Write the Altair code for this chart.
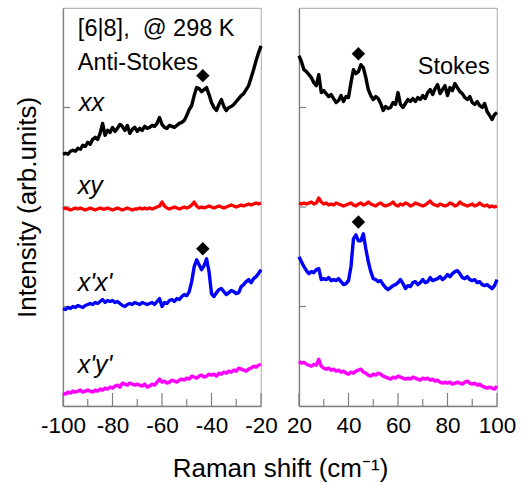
import altair as alt
import numpy as np
import pandas as pd

FONT = "Liberation Sans"

# ---------------- data (Raman shift step = 1 cm^-1) ----------------
as_range = (-100, -20)   # anti-Stokes side
st_range = (20, 100)     # Stokes side

series_names = ["xx", "xy", "x'x'", "x'y'"]
series_colors = ["#000000", "#ff0000", "#0000ff", "#ff00ff"]

as_xx = [253, 254, 253, 256, 257, 256, 259, 258, 262, 261,
         265, 263, 268, 270, 268, 274, 284, 272, 277, 275,
         280, 276, 279, 283, 281, 277, 282, 274, 278, 280,
         276, 279, 277, 281, 279, 280, 282, 281, 284, 290,
         283, 280, 279, 282, 281, 280, 282, 284, 285, 287,
         292, 298, 302, 312, 320, 319, 316, 318, 320, 313,
         305, 300, 297, 303, 308, 301, 297, 300, 301, 303,
         306, 309, 312, 314, 318, 322, 330, 338, 347, 355,
         362]
as_xy = [198, 199, 198, 197, 198, 199, 198, 199, 198, 197,
         198, 199, 198, 197, 198, 199, 198, 198, 199, 198,
         197, 198, 199, 198, 197, 198, 199, 198, 197, 198,
         198, 199, 198, 199, 198, 199, 198, 199, 200, 201,
         205, 201, 199, 198, 199, 200, 199, 198, 199, 200,
         199, 200, 202, 205, 201, 199, 200, 199, 200, 201,
         200, 199, 200, 201, 200, 199, 200, 201, 202, 201,
         200, 201, 202, 201, 202, 203, 202, 203, 204, 203,
         204]
as_x1x1 = [98, 97, 99, 98, 100, 99, 101, 100, 99, 101,
           102, 103, 102, 104, 103, 105, 107, 104, 106, 105,
           106, 104, 105, 103, 101, 100, 102, 103, 102, 104,
           103, 102, 104, 103, 102, 103, 104, 102, 105, 108,
           100, 104, 103, 106, 107, 105, 108, 107, 110, 112,
           111, 115, 125, 140, 147, 142, 137, 141, 148, 135,
           113, 110, 114, 117, 118, 115, 112, 114, 116, 115,
           113, 114, 120, 122, 125, 127, 124, 128, 130, 133,
           137]
as_x1y1 = [13, 12, 14, 13, 15, 14, 15, 16, 14, 15,
           16, 15, 14, 16, 15, 17, 16, 18, 17, 19,
           18, 20, 21, 19, 23, 22, 21, 23, 22, 21,
           22, 21, 20, 22, 19, 20, 22, 21, 24, 27,
           24, 25, 23, 24, 26, 25, 24, 26, 27, 26,
           28, 27, 30, 29, 28, 30, 31, 29, 30, 32,
           31, 32, 30, 33, 32, 34, 33, 35, 34, 36,
           35, 38, 37, 36, 35, 37, 38, 40, 39, 41,
           42]

st_xx = [352, 346, 338, 336, 333, 330, 325, 322, 333, 315,
         317, 314, 311, 313, 309, 305, 307, 312, 306, 311,
         310, 325, 338, 334, 336, 343, 340, 330, 318, 312,
         308, 311, 309, 304, 297, 301, 299, 300, 305, 303,
         315, 303, 300, 304, 308, 306, 309, 306, 310, 308,
         312, 309, 315, 318, 313, 319, 323, 314, 318, 322,
         312, 320, 317, 324, 320, 316, 314, 310, 308, 311,
         305, 303, 306, 302, 300, 304, 296, 292, 288, 293,
         295]
st_xy = [204, 203, 204, 203, 204, 205, 203, 204, 209, 205,
         203, 204, 202, 203, 202, 204, 203, 202, 201, 202,
         203, 204, 202, 201, 203, 204, 202, 203, 205, 203,
         202, 201, 203, 204, 202, 201, 202, 203, 205, 202,
         201, 203, 202, 204, 203, 201, 202, 204, 203, 202,
         201, 202, 204, 206, 203, 202, 201, 203, 202, 201,
         202, 204, 203, 201, 202, 205, 203, 202, 201, 202,
         203, 201, 202, 204, 202, 201, 202, 200, 201, 200,
         201]
st_x1x1 = [150, 145, 140, 136, 133, 135, 134, 137, 138, 127,
           128, 127, 129, 126, 127, 126, 128, 125, 122, 123,
           126, 140, 168, 172, 166, 166, 173, 158, 145, 135,
           128, 127, 125, 126, 122, 119, 117, 119, 121, 122,
           124, 127, 123, 118, 121, 120, 124, 125, 122, 124,
           127, 124, 125, 129, 126, 127, 128, 130, 127, 129,
           132, 130, 133, 135, 136, 133, 129, 128, 130, 127,
           126, 127, 124, 125, 122, 121, 122, 120, 118, 121,
           127]
st_x1y1 = [45, 43, 44, 42, 41, 40, 42, 41, 47, 40,
           38, 37, 38, 36, 37, 35, 36, 34, 35, 33,
           32, 34, 33, 35, 36, 37, 34, 33, 31, 30,
           32, 31, 33, 32, 30, 29, 28, 27, 29, 28,
           30, 29, 28, 27, 28, 27, 29, 28, 27, 26,
           28, 27, 28, 26, 27, 25, 26, 24, 23, 24,
           23, 24, 22, 23, 24, 23, 22, 24, 25, 23,
           22, 23, 21, 22, 20, 19, 18, 19, 18, 17,
           20]

# peak markers (diamonds)
as_diamond_shift = [-43.5, -43.5]
as_diamond_int = [332, 158]
st_diamond_shift = [44, 44]
st_diamond_int = [354, 185]

# labels
as_series_labels = ["xx", "xy", "x'x'", "x'y'"]
as_series_label_shift = [-93.5, -94, -94, -94]
as_series_label_int = [296, 213, 116, 33]
as_notes = ["[6|8],\u00a0 @ 298 K", "Anti-Stokes"]
as_notes_shift = [-94, -94]
as_notes_int = [372, 338]
st_notes = ["Stokes"]
st_notes_shift = [68]
st_notes_int = [334]

x_major_as = [-100, -80, -60, -40, -20]
x_minor_as = [-90, -70, -50, -30]
x_major_st = [20, 40, 60, 80, 100]
x_minor_st = [30, 50, 70, 90]
y_ticks = [100, 200, 300]
y_domain = [0, 400]

W, H = 198, 398
GAP = 38
AXC = "#808080"


def long_df(series_lists, rng):
    rows = []
    for name, vals in zip(series_names, series_lists):
        xs = np.linspace(rng[0], rng[1], len(vals))
        for xv, yv in zip(xs, vals):
            rows.append({"shift": float(xv), "intensity": yv, "series": name})
    return pd.DataFrame(rows)


def panel(series_lists, rng, major, minor, d_shift, d_int,
          lab, lab_s, lab_i, notes, notes_s, notes_i, ytitle, xtitle):
    xaxis = dict(values=major, ticks=False, labelFlush=False,
                 labelOverlap=False, labelFontSize=22.5,
                 labelPadding=8, labelColor="black",
                 labelExpr="'' + datum.value",
                 domainColor=AXC, domainWidth=1.3, grid=False)
    if xtitle:
        xaxis.update(title=xtitle, titleFontSize=26, titleFont=FONT,
                     titleFontWeight="normal", titleColor="black",
                     titleX=(2 * W + GAP) / 2, titleY=70,
                     titleAlign="center", titleBaseline="alphabetic")
    else:
        xaxis.update(title=None)
    xenc = alt.X("shift:Q",
                 scale=alt.Scale(domain=list(rng), nice=False, zero=False),
                 axis=alt.Axis(**xaxis))
    yaxis = dict(labels=False, ticks=False, grid=False, domainColor=AXC,
                 domainWidth=1.3)
    if ytitle:
        yaxis.update(title=ytitle, titleFontSize=26, titleFont=FONT,
                     titleFontWeight="normal", titlePadding=23,
                     titleColor="black")
    else:
        yaxis.update(title=None)
    yenc = alt.Y("intensity:Q", scale=alt.Scale(domain=y_domain, nice=False),
                 axis=alt.Axis(**yaxis))

    df = long_df(series_lists, rng)
    lines = alt.Chart(df).mark_line(strokeWidth=3.4, strokeJoin="round").encode(
        x=xenc, y=yenc,
        color=alt.Color("series:N", scale=alt.Scale(domain=series_names,
                                                    range=series_colors),
                        legend=None),
        detail="series:N")

    dia = alt.Chart(pd.DataFrame({"shift": d_shift, "intensity": d_int})).mark_point(
        shape="diamond", filled=True, size=180, color="black", opacity=1
    ).encode(x=xenc, y=yenc)

    ytk = alt.Chart(pd.DataFrame({"intensity": y_ticks})).mark_rule(
        color=AXC, strokeWidth=1.2).encode(y=yenc, x=alt.value(0), x2=alt.value(7))
    xmaj = alt.Chart(pd.DataFrame({"shift": major})).mark_rule(
        color=AXC, strokeWidth=1.2).encode(x=xenc, y=alt.value(H - 13), y2=alt.value(H))
    xmin = alt.Chart(pd.DataFrame({"shift": minor})).mark_rule(
        color=AXC, strokeWidth=1.2).encode(x=xenc, y=alt.value(H - 7), y2=alt.value(H))

    layers = [xmaj, xmin, ytk, lines, dia]
    if lab:
        labels = alt.Chart(pd.DataFrame({"shift": lab_s, "intensity": lab_i,
                                         "label": lab})).mark_text(
            align="left", baseline="alphabetic", fontSize=25, fontStyle="italic",
            font=FONT, color="black").encode(x=xenc, y=yenc, text="label:N")
        layers.append(labels)
    if notes:
        nt = alt.Chart(pd.DataFrame({"shift": notes_s, "intensity": notes_i,
                                     "label": notes})).mark_text(
            align="left", baseline="alphabetic", fontSize=23.5,
            font=FONT, color="black").encode(x=xenc, y=yenc, text="label:N")
        layers.append(nt)
    return alt.layer(*layers).properties(width=W, height=H)


left = panel([as_xx, as_xy, as_x1x1, as_x1y1], as_range, x_major_as, x_minor_as,
             as_diamond_shift, as_diamond_int,
             as_series_labels, as_series_label_shift, as_series_label_int,
             as_notes, as_notes_shift, as_notes_int,
             "Intensity (arb.units)", "Raman shift (cm\u207b\u00b9)")
right = panel([st_xx, st_xy, st_x1x1, st_x1y1], st_range, x_major_st, x_minor_st,
              st_diamond_shift, st_diamond_int,
              [], [], [], st_notes, st_notes_shift, st_notes_int, None, None)

chart = alt.hconcat(left, right, spacing=GAP, bounds="flush").properties(
    padding={"left": 13, "top": 7, "right": 5, "bottom": 2},
).configure(font=FONT).configure_view(
    stroke="#b8b8b8", strokeWidth=1.2
).configure_axis(labelFont=FONT, titleFont=FONT)

chart.save("out.html", embed_options={"renderer": "svg", "actions": False})
